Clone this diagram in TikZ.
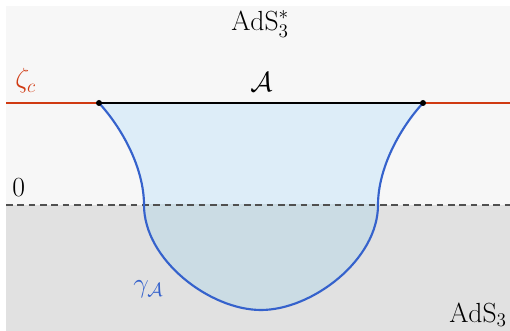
\documentclass[tikz,border=0pt]{standalone}
\usetikzlibrary{calc}
\definecolor{bgtop}{HTML}{F7F7F7}
\definecolor{bgbot}{HTML}{E1E1E1}
\definecolor{cutred}{HTML}{D03A12}
\definecolor{rtblue}{HTML}{3562CC}
\definecolor{filltop}{HTML}{DDEDF8}
\definecolor{fillbot}{HTML}{CBDCE4}
\definecolor{dashgray}{HTML}{505050}
\tikzset{
  lbl/.style={anchor=base west, inner sep=0pt, font=\fontsize{22}{26}\selectfont},
  cutline/.style={draw=cutred, line width=1.6pt},
  segline/.style={draw=black, line width=1.9pt},
  rtline/.style={draw=rtblue, line width=1.6pt},
  zeroline/.style={draw=dashgray, line width=1.5pt, dash pattern=on 5pt off 3.5pt},
}
\begin{document}
\begin{tikzpicture}[x=0.75pt,y=-0.75pt]
\useasboundingbox (0,0) rectangle (510,331);
% backgrounds
\fill[bgtop] (6,6) rectangle (510,205);
\fill[bgbot] (6,205) rectangle (510,331);
% endpoints
\coordinate (L) at (99,103);
\coordinate (R) at (423,103);
\coordinate (edgeL) at (6,103);
\coordinate (edgeR) at (510,103);
\coordinate (zL) at (6,205);
\coordinate (zR) at (510,205);
% region path
\def\rtpath{(L) .. controls (122,128) and (144,168) .. (144,205)
  .. controls (144,260) and (210,310) .. (261,310)
  .. controls (312,310) and (378,260) .. (378,205)
  .. controls (378,168) and (400,128) .. (R)}
\fill[filltop] \rtpath -- cycle;
\begin{scope}
  \clip (6,205) rectangle (510,331);
  \fill[fillbot] \rtpath -- cycle;
\end{scope}
% lines
\draw[zeroline] (zL) -- (zR);
\draw[cutline] (edgeL) -- (L);
\draw[cutline] (R) -- (edgeR);
\draw[rtline] \rtpath;
\draw[segline] (L) -- (R);
\fill (L) circle (3);
\fill (R) circle (3);
% labels
\node[lbl] (adsstar) at (231,31) {$\mathrm{AdS}_3^*$};
\node[lbl] (ads) at (449,322) {$\mathrm{AdS}_3$};
\node[lbl, text=cutred] (zc) at (15,88) {$\zeta_c$};
\node[lbl] (calA) at (250,92) {$\mathcal{A}$};
\node[lbl] (zero) at (12,197) {$0$};
\node[lbl, text=rtblue] (gam) at (133,292) {$\gamma_{\mathcal{A}}$};
\end{tikzpicture}
\end{document}
